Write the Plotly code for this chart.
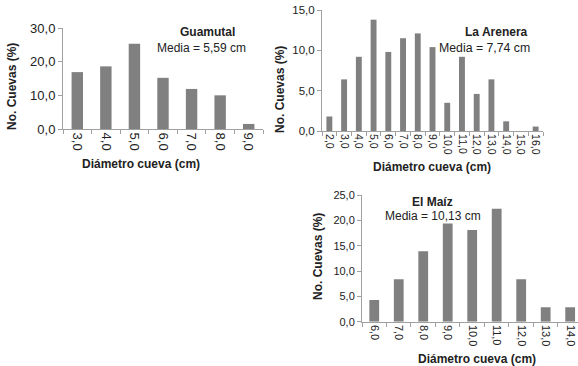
import plotly.graph_objects as go

W, H = 578, 366

# Guamutal
g_diam = ["3,0", "4,0", "5,0", "6,0", "7,0", "8,0", "9,0"]
g_pct = [16.9, 18.6, 25.3, 15.2, 11.9, 10.0, 1.5]
# La Arenera
a_diam = ["2,0", "3,0", "4,0", "5,0", "6,0", "7,0", "8,0", "9,0", "10,0",
          "11,0", "12,0", "13,0", "14,0", "15,0", "16,0"]
a_pct = [1.8, 6.4, 9.2, 13.8, 9.8, 11.5, 12.1, 10.4, 3.5, 9.2, 4.6, 6.4, 1.2, 0.0, 0.55]
# El Maiz
m_diam = ["6,0", "7,0", "8,0", "9,0", "10,0", "11,0", "12,0", "13,0", "14,0"]
m_pct = [4.3, 8.4, 13.9, 19.4, 18.1, 22.3, 8.4, 2.85, 2.85]

BAR = "#808080"
AX = "#a0a0a0"
TXT = "#222222"
FONT = "Liberation Sans, Arial, sans-serif"

fig = go.Figure()


def px_x(p):
    return p / W


def px_y(p):
    return 1 - p / H


panels = [
    dict(cats=g_diam, vals=g_pct, xd=(63, 263), yd=(28, 129), yr=30, dt=10,
         xa="x", ya="y", tfs=13, xfs=13, xr=None),
    dict(cats=a_diam, vals=a_pct, xd=(322, 543), yd=(10, 131), yr=15, dt=5,
         xa="x2", ya="y2", tfs=11.5, xfs=10.5, xr=None),
    dict(cats=m_diam, vals=m_pct, xd=(362, 578), yd=(195, 321.7), yr=25, dt=5,
         xa="x3", ya="y3", tfs=11, xfs=11, xr=(-0.5, 8.32)),
]

for i, p in enumerate(panels):
    n = len(p["cats"])
    xs = list(range(n))
    fig.add_trace(go.Bar(x=xs, y=p["vals"], width=0.4, marker_color=BAR,
                         marker_line_width=0, xaxis=p["xa"], yaxis=p["ya"],
                         showlegend=False, hoverinfo="skip", cliponaxis=True))
    sfx = "" if i == 0 else str(i + 1)
    xr = p["xr"] if p["xr"] else (-0.5, n - 0.5)
    fig.layout["xaxis" + sfx] = dict(
        domain=[px_x(p["xd"][0]), px_x(p["xd"][1])], anchor=p["ya"],
        range=list(xr), tickmode="array", tickvals=xs, ticktext=p["cats"],
        tickangle=90, showline=True, linecolor=AX, linewidth=1,
        ticks="", showgrid=False, automargin=False,
        ticklabeloverflow="allow",
        zeroline=False, tickfont=dict(size=p["xfs"], color=TXT, family=FONT),
        minor=dict(tickmode="array",
                   tickvals=[k - 0.5 for k in range(n + 1)],
                   ticks="outside", ticklen=4, tickcolor=AX),
        fixedrange=True)
    fig.layout["yaxis" + sfx] = dict(
        domain=[px_y(p["yd"][1]), px_y(p["yd"][0])], anchor=p["xa"],
        range=[0, p["yr"]], dtick=p["dt"], tickformat=".1f",
        showline=True, linecolor=AX, linewidth=1, ticks="outside",
        ticklen=4, tickcolor=AX, showgrid=False, zeroline=False,
        automargin=False, ticklabeloverflow="allow",
        tickfont=dict(size=p["tfs"], color=TXT, family=FONT), fixedrange=True)

ann = []


def add(text, x, y, size=12, bold=False, angle=0):
    ann.append(dict(text=("<b>%s</b>" % text) if bold else text,
                    x=px_x(x), y=px_y(y), xref="paper", yref="paper",
                    showarrow=False, textangle=angle, xanchor="center",
                    yanchor="middle",
                    font=dict(size=size, color=TXT, family=FONT)))


# y titles
add("No. Cuevas (%)", 12, 87, 12, True, -90)
add("No. Cuevas (%)", 280, 90, 12, True, -90)
add("No. Cuevas (%)", 318, 257, 12, True, -90)
# x titles
add("Diámetro cueva (cm)", 141, 164, 12, True)
add("Diámetro cueva (cm)", 432, 167, 12, True)
add("Diámetro cueva (cm)", 477, 359, 12, True)
# panel labels
add("Guamutal", 207, 32, 12, True)
add("Media = 5,59 cm", 201, 48, 12)
add("La Arenera", 496, 32, 12, True)
add("Media = 7,74 cm", 484, 48, 12.3)
add("El Maíz", 432, 202, 12, True)
add("Media = 10,13 cm", 433, 216, 12)

fig.update_layout(width=W, height=H, margin=dict(l=0, r=0, t=0, b=0, pad=0),
                  paper_bgcolor="white", plot_bgcolor="white",
                  separators=",.", annotations=ann, bargap=0.6,
                  font=dict(family=FONT, color=TXT))

fig.write_html("out.html", config={"displayModeBar": False},
               post_script="document.body.style.margin='0px';"
                           "document.body.style.overflow='hidden';")
